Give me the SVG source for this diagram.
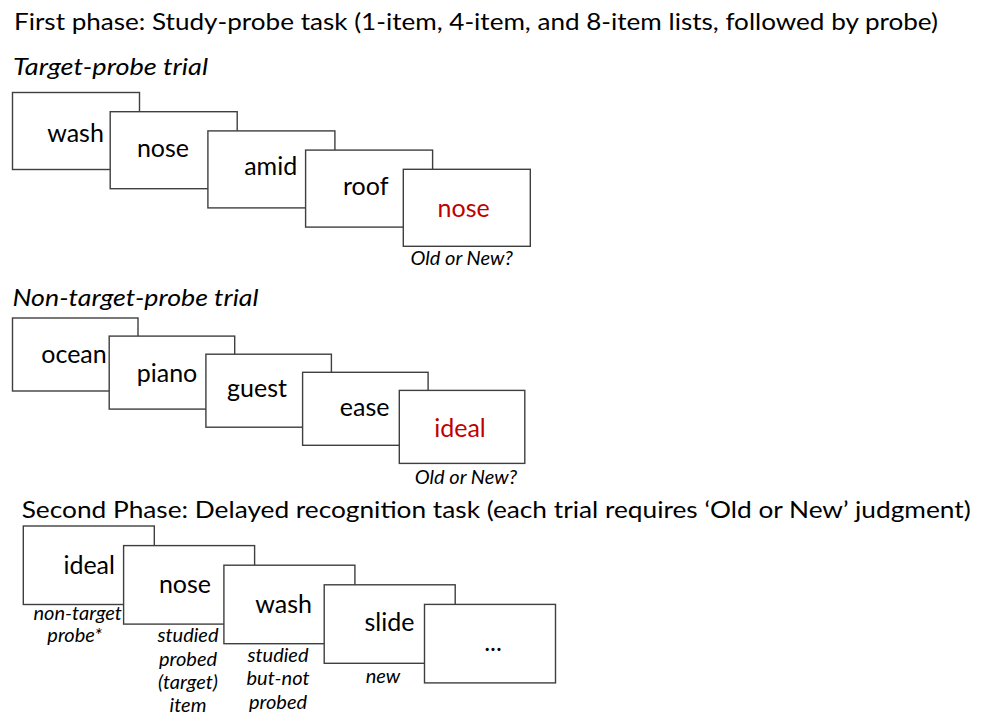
<svg xmlns="http://www.w3.org/2000/svg" width="989" height="716" viewBox="0 0 989 716">
<style>
.bg{fill:#ffffff}
.card{fill:#ffffff;stroke:#3f3f3f;stroke-width:1.4}
.h{font-family:Lato,"Liberation Sans",sans-serif;font-size:23px;fill:#000}
.sub{font-family:Lato,"Liberation Sans",sans-serif;font-size:24px;font-style:italic;fill:#000}
.w{font-family:Lato,"Liberation Sans",sans-serif;font-size:25px;fill:#000;text-anchor:middle}
.red{fill:#c00000}
.lbl{font-family:Lato,"Liberation Sans",sans-serif;font-size:20px;font-style:italic;fill:#000;text-anchor:middle}
</style>
<rect class="bg" x="0" y="0" width="989" height="716"/>
<g id="titles">
<text class="h" x="14" y="30" textLength="924" lengthAdjust="spacingAndGlyphs">First phase: Study-probe task (1-item, 4-item, and 8-item lists, followed by probe)</text>
<text class="sub" x="13" y="75" textLength="195" lengthAdjust="spacingAndGlyphs">Target-probe trial</text>
<text class="sub" x="12.5" y="306" textLength="246" lengthAdjust="spacingAndGlyphs">Non-target-probe trial</text>
<text class="h" x="21.7" y="518" textLength="949" lengthAdjust="spacingAndGlyphs">Second Phase: Delayed recognition task (each trial requires ‘Old or New’ judgment)</text>
</g>
<g id="connectors"></g>
<!-- Row 1: target-probe trial -->
<g id="r1c1"><rect class="card" x="12.5" y="92.5" width="127" height="77"/><text class="w" x="75.5" y="141.7">wash</text></g>
<g id="r1c2"><rect class="card" x="110.2" y="111.7" width="127" height="77"/><text class="w" x="163" y="157.3">nose</text></g>
<g id="r1c3"><rect class="card" x="207.9" y="130.9" width="127" height="77"/><text class="w" x="270.7" y="175">amid</text></g>
<g id="r1c4"><rect class="card" x="305.6" y="150.1" width="127" height="77"/><text class="w" x="365.7" y="195">roof</text></g>
<g id="r1c5"><rect class="card" x="403.3" y="169.3" width="127" height="77"/><text class="w red" x="463.6" y="216.7">nose</text><text class="lbl" x="461.7" y="265">Old or New?</text></g>
<!-- Row 2: non-target-probe trial -->
<g id="r2c1"><rect class="card" x="12.5" y="318" width="125.5" height="73"/><text class="w" x="74" y="363.3">ocean</text></g>
<g id="r2c2"><rect class="card" x="109.2" y="336.1" width="125.5" height="73"/><text class="w" x="167" y="381.7">piano</text></g>
<g id="r2c3"><rect class="card" x="205.9" y="354.2" width="125.5" height="73"/><text class="w" x="257" y="397.3">guest</text></g>
<g id="r2c4"><rect class="card" x="302.6" y="372.3" width="125.5" height="73"/><text class="w" x="364.7" y="416">ease</text></g>
<g id="r2c5"><rect class="card" x="399.3" y="390.4" width="125.5" height="73"/><text class="w red" x="460" y="436.7">ideal</text><text class="lbl" x="466" y="484">Old or New?</text></g>
<!-- Row 3: delayed recognition -->
<g id="r3c1"><rect class="card" x="23.3" y="526" width="131" height="78.5"/><text class="w" x="89.2" y="574">ideal</text><text class="lbl" x="77.7" y="620">non-target</text><text class="lbl" x="74.8" y="642">probe*</text></g>
<g id="r3c2"><rect class="card" x="123.6" y="545.6" width="131" height="78.5"/><text class="w" x="185" y="593.3">nose</text><text class="lbl" x="188" y="642">studied</text><text class="lbl" x="188" y="665.5">probed</text><text class="lbl" x="188" y="689">(target)</text><text class="lbl" x="188" y="712">item</text></g>
<g id="r3c3"><rect class="card" x="223.9" y="565.2" width="131" height="78.5"/><text class="w" x="283.6" y="612.7">wash</text><text class="lbl" x="278" y="661.5">studied</text><text class="lbl" x="278" y="685">but-not</text><text class="lbl" x="278" y="708.5">probed</text></g>
<g id="r3c4"><rect class="card" x="324.2" y="584.8" width="131" height="78.5"/><text class="w" x="389.5" y="631">slide</text><text class="lbl" x="383" y="683">new</text></g>
<g id="r3c5"><rect class="card" x="424.5" y="604.4" width="131" height="78.5"/><text class="w" x="493" y="651">...</text></g>
</svg>
